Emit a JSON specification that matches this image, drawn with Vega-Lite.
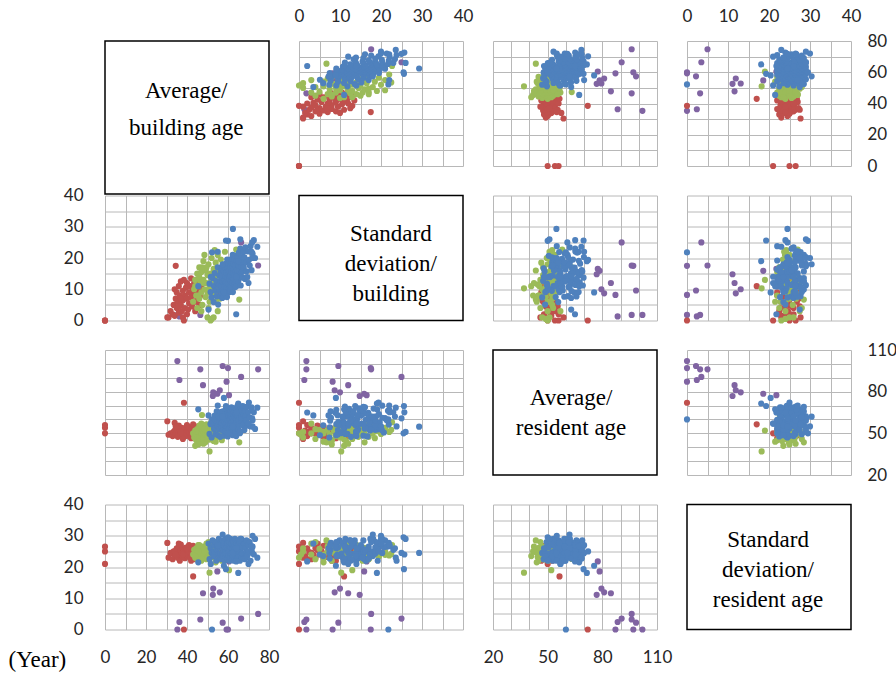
{
"$schema":"https://vega.github.io/schema/vega-lite/v6.json",
"background":"white",
"autosize":{"type":"pad"},
"padding":{"left":8,"top":7,"right":0,"bottom":0},
"config":{"view":{"stroke":null},"axis":{"ticks":false,"domain":false,"gridColor":"#b8b8b8","gridWidth":1,"gridOpacity":1,"labelFont":"Lato","labelFontSize":17,"labelColor":"#262626","labelFlush":false,"labelOverlap":false,"labelPadding":16}},
"data":{"values":[
{"a":35.3,"b":1.8,"c":102,"d":0,"g":"p"},{"a":60,"b":17.5,"c":97,"d":0,"g":"p"},{"a":59.3,"b":8.2,"c":87.2,"d":0,"g":"p"},{"a":57.4,"b":9.6,"c":98.5,"d":2.2,"g":"p"},{"a":36.3,"b":1.3,"c":88.4,"d":2.4,"g":"p"},{"a":46.5,"b":1.8,"c":96.1,"d":3.2,"g":"p"},{"a":66.4,"b":25,"c":90.6,"d":3.5,"g":"p"},{"a":74.7,"b":17.6,"c":96.1,"d":5,"g":"p"},{"a":47.8,"b":12,"c":84.7,"d":11.6,"g":"p"},{"a":56,"b":8.7,"c":81,"d":11.9,"g":"p"},{"a":52.6,"b":14.8,"c":76.9,"d":11.1,"g":"p"},{"a":52.8,"b":10,"c":79.5,"d":13.1,"g":"p"},{"a":54.8,"b":15.9,"c":78.5,"d":18.6,"g":"p"},{"a":60.5,"b":16.5,"c":77.5,"d":21.8,"g":"p"},
{"a":31,"b":1,"c":49,"d":23,"g":"r"},{"a":32,"b":3,"c":50,"d":24.5,"g":"r"},{"a":33,"b":2,"c":48,"d":22.5,"g":"r"},{"a":33.5,"b":5,"c":51,"d":25,"g":"r"},{"a":34,"b":1.5,"c":52,"d":23.5,"g":"r"},{"a":34.5,"b":7,"c":49.5,"d":24,"g":"r"},{"a":35,"b":4,"c":50.5,"d":26,"g":"r"},{"a":35,"b":9,"c":53,"d":25.5,"g":"r"},{"a":35.5,"b":6,"c":47.5,"d":23,"g":"r"},{"a":36,"b":2.5,"c":51.5,"d":24.8,"g":"r"},
{"a":36,"b":11,"c":48.5,"d":26.5,"g":"r"},{"a":36.5,"b":8,"c":52.5,"d":22,"g":"r"},{"a":37,"b":5,"c":49,"d":25.2,"g":"r"},{"a":37,"b":12.5,"c":50,"d":23.8,"g":"r"},{"a":37.5,"b":3,"c":54,"d":24.3,"g":"r"},{"a":38,"b":9.5,"c":51,"d":26,"g":"r"},{"a":38,"b":6.5,"c":47,"d":23.2,"g":"r"},{"a":38.5,"b":13,"c":52,"d":25,"g":"r"},{"a":39,"b":4,"c":50,"d":22.8,"g":"r"},{"a":39,"b":8,"c":53.5,"d":24.6,"g":"r"},
{"a":39.5,"b":10.5,"c":48,"d":26.2,"g":"r"},{"a":40,"b":7,"c":51.5,"d":23.5,"g":"r"},{"a":40,"b":12,"c":49.5,"d":25.8,"g":"r"},{"a":40.5,"b":3.5,"c":52.5,"d":24,"g":"r"},{"a":41,"b":9,"c":50,"d":27,"g":"r"},{"a":41,"b":5.5,"c":54.5,"d":25,"g":"r"},{"a":41.5,"b":11,"c":47.5,"d":23,"g":"r"},{"a":42,"b":7.5,"c":51,"d":24.4,"g":"r"},{"a":42,"b":13.5,"c":53,"d":26,"g":"r"},{"a":42.5,"b":4.5,"c":49,"d":25.5,"g":"r"},
{"a":43,"b":10,"c":52,"d":23.7,"g":"r"},{"a":43,"b":6,"c":48.5,"d":26.8,"g":"r"},{"a":43.5,"b":12,"c":50.5,"d":24.2,"g":"r"},{"a":44,"b":8.5,"c":53,"d":25.2,"g":"r"},{"a":44,"b":3,"c":51,"d":22.5,"g":"r"},{"a":44.5,"b":11.5,"c":49,"d":26,"g":"r"},{"a":45,"b":7,"c":52,"d":24.8,"g":"r"},{"a":45,"b":13,"c":50,"d":23.4,"g":"r"},{"a":45.5,"b":9.5,"c":54,"d":25.6,"g":"r"},{"a":46,"b":5,"c":51.5,"d":24,"g":"r"},
{"a":46,"b":12,"c":48,"d":26.3,"g":"r"},{"a":46.5,"b":8,"c":53,"d":23.6,"g":"r"},{"a":47,"b":10.5,"c":50.5,"d":25,"g":"r"},{"a":38,"b":1,"c":46,"d":24,"g":"r"},{"a":36,"b":4.5,"c":55.5,"d":27.5,"g":"r"},{"a":34,"b":10,"c":57.5,"d":25,"g":"r"},{"a":40,"b":2,"c":56,"d":26,"g":"r"},{"a":42,"b":9,"c":46.5,"d":22,"g":"r"},{"a":37,"b":7,"c":51,"d":27.2,"g":"r"},{"a":44,"b":6,"c":55,"d":24,"g":"r"},
{"a":0,"b":0,"c":50,"d":21,"g":"r"},{"a":0,"b":0,"c":54,"d":25,"g":"r"},{"a":0,"b":0,"c":56,"d":26.5,"g":"r"},{"a":38.5,"b":0,"c":72,"d":0,"g":"r"},{"a":43,"b":11,"c":56.5,"d":17,"g":"r"},{"a":34.5,"b":17.5,"c":55,"d":24,"g":"r"},{"a":30.4,"b":1,"c":58.7,"d":27.7,"g":"r"},
{"a":43,"b":6,"c":50,"d":24,"g":"g"},{"a":43.5,"b":10,"c":47,"d":25.5,"g":"g"},{"a":44,"b":13,"c":52,"d":23,"g":"g"},{"a":44.5,"b":8,"c":45,"d":26,"g":"g"},{"a":45,"b":15,"c":49,"d":24.5,"g":"g"},{"a":45,"b":4,"c":53,"d":22.5,"g":"g"},{"a":45.5,"b":11,"c":51,"d":27,"g":"g"},{"a":46,"b":17,"c":47.5,"d":23.8,"g":"g"},{"a":46,"b":7,"c":44,"d":25,"g":"g"},{"a":46.5,"b":12.5,"c":54,"d":24.2,"g":"g"},
{"a":47,"b":9,"c":48,"d":26.5,"g":"g"},{"a":47,"b":15.5,"c":50.5,"d":22,"g":"g"},{"a":47.5,"b":5,"c":52.5,"d":25.8,"g":"g"},{"a":48,"b":13,"c":46,"d":24,"g":"g"},{"a":48,"b":19,"c":51.5,"d":26,"g":"g"},{"a":48.5,"b":10,"c":55,"d":23.5,"g":"g"},{"a":49,"b":7.5,"c":49,"d":25.2,"g":"g"},{"a":49,"b":16,"c":43.5,"d":24.8,"g":"g"},{"a":49.5,"b":12,"c":52,"d":27.5,"g":"g"},{"a":50,"b":14.5,"c":48.5,"d":23,"g":"g"},
{"a":50,"b":9,"c":54.5,"d":25.5,"g":"g"},{"a":50.5,"b":18,"c":50,"d":24.3,"g":"g"},{"a":51,"b":11,"c":45.5,"d":26.2,"g":"g"},{"a":51,"b":6,"c":51,"d":22.8,"g":"g"},{"a":51.5,"b":15,"c":53.5,"d":25,"g":"g"},{"a":52,"b":13,"c":47,"d":23.6,"g":"g"},{"a":52,"b":20,"c":49.5,"d":26.8,"g":"g"},{"a":52.5,"b":8.5,"c":52,"d":24.6,"g":"g"},{"a":53,"b":16.5,"c":55.5,"d":25.3,"g":"g"},{"a":53,"b":11.5,"c":44.5,"d":23.2,"g":"g"},
{"a":53.5,"b":14,"c":50,"d":27,"g":"g"},{"a":54,"b":18.5,"c":46.5,"d":24,"g":"g"},{"a":54,"b":9.5,"c":53,"d":25.7,"g":"g"},{"a":54.5,"b":12.5,"c":48,"d":22.4,"g":"g"},{"a":55,"b":16,"c":51.5,"d":26.1,"g":"g"},{"a":55,"b":21,"c":54,"d":23.9,"g":"g"},{"a":55.5,"b":10.5,"c":49,"d":25,"g":"g"},{"a":56,"b":14.5,"c":47.5,"d":24.4,"g":"g"},{"a":56,"b":7,"c":52.5,"d":26.6,"g":"g"},{"a":56.5,"b":19.5,"c":55,"d":23.4,"g":"g"},
{"a":57,"b":12,"c":50.5,"d":25.6,"g":"g"},{"a":57.5,"b":16.5,"c":48,"d":24.1,"g":"g"},{"a":58,"b":10,"c":53.5,"d":26.3,"g":"g"},{"a":58.5,"b":22,"c":51,"d":23.7,"g":"g"},{"a":59,"b":14,"c":56,"d":25.2,"g":"g"},{"a":60,"b":18,"c":54.5,"d":24.5,"g":"g"},{"a":47,"b":3,"c":57,"d":24,"g":"g"},{"a":50,"b":1,"c":51,"d":25,"g":"g"},{"a":52,"b":0.5,"c":49,"d":24,"g":"g"},{"a":53,"b":1,"c":47,"d":26,"g":"g"},
{"a":51.5,"b":0,"c":50,"d":23,"g":"g"},{"a":45.5,"b":8,"c":42,"d":25,"g":"g"},{"a":44,"b":11,"c":41,"d":23.5,"g":"g"},{"a":48,"b":12,"c":42.5,"d":26.5,"g":"g"},{"a":49.5,"b":17,"c":56.5,"d":22.5,"g":"g"},{"a":46,"b":14,"c":55.5,"d":27,"g":"g"},{"a":54,"b":6,"c":44,"d":21.5,"g":"g"},{"a":50.5,"b":4,"c":46,"d":28,"g":"g"},{"a":57,"b":8,"c":45,"d":22,"g":"g"},{"a":48.5,"b":21,"c":53,"d":25,"g":"g"},
{"a":53.5,"b":22.5,"c":52.5,"d":24.2,"g":"g"},{"a":55,"b":3,"c":50,"d":27.5,"g":"g"},{"a":51,"b":10.3,"c":37,"d":18.2,"g":"g"},{"a":60.5,"b":13,"c":52,"d":19,"g":"g"},{"a":65.5,"b":6.7,"c":43.5,"d":28.5,"g":"g"},{"a":47.3,"b":17,"c":63.2,"d":22.6,"g":"g"},{"a":64,"b":22.7,"c":58,"d":27,"g":"g"},
{"a":50.5,"b":3.5,"c":62.9,"d":27.5,"g":"b"},{"a":51,"b":11.8,"c":49.6,"d":22.5,"g":"b"},{"a":51.5,"b":9.1,"c":56.6,"d":26,"g":"b"},{"a":52,"b":7.4,"c":47,"d":24.5,"g":"b"},{"a":52.5,"b":13.6,"c":59.7,"d":28.5,"g":"b"},{"a":53,"b":5.9,"c":55.8,"d":23.5,"g":"b"},{"a":53.2,"b":11,"c":53.2,"d":27,"g":"b"},{"a":53.5,"b":15.2,"c":62.8,"d":25,"g":"b"},{"a":54,"b":9.5,"c":49.4,"d":28,"g":"b"},{"a":54.3,"b":12.6,"c":59,"d":22,"g":"b"},
{"a":54.5,"b":7.7,"c":65.8,"d":25.5,"g":"b"},{"a":55,"b":17,"c":55.2,"d":26.5,"g":"b"},{"a":55.2,"b":5.1,"c":48.6,"d":24,"g":"b"},{"a":55.5,"b":11.3,"c":62.2,"d":29,"g":"b"},{"a":55.7,"b":14.4,"c":52.8,"d":23,"g":"b"},{"a":56,"b":9.6,"c":58.3,"d":26.3,"g":"b"},{"a":56.2,"b":12.7,"c":47.5,"d":24.3,"g":"b"},{"a":56.4,"b":7.8,"c":61.2,"d":27.7,"g":"b"},{"a":56.5,"b":15.8,"c":65.3,"d":22.7,"g":"b"},{"a":56.8,"b":11,"c":54.5,"d":27.5,"g":"b"},
{"a":57,"b":14.1,"c":57.4,"d":22.5,"g":"b"},{"a":57.2,"b":7.2,"c":62.9,"d":26,"g":"b"},{"a":57.4,"b":17.3,"c":52.1,"d":24.5,"g":"b"},{"a":57.5,"b":12.4,"c":65.8,"d":28.5,"g":"b"},{"a":57.7,"b":9.5,"c":52.3,"d":23.5,"g":"b"},{"a":57.9,"b":7.6,"c":59.1,"d":27,"g":"b"},{"a":58,"b":15.7,"c":48.3,"d":25,"g":"b"},{"a":58.2,"b":12.8,"c":62,"d":28,"g":"b"},{"a":58.4,"b":10.9,"c":57.9,"d":22,"g":"b"},{"a":58.6,"b":17,"c":55.4,"d":25.5,"g":"b"},
{"a":58.5,"b":8.9,"c":64.8,"d":26.5,"g":"b"},{"a":58.8,"b":14.1,"c":51.3,"d":24,"g":"b"},{"a":58.9,"b":18.1,"c":60.9,"d":29,"g":"b"},{"a":59,"b":12.2,"c":67.6,"d":23,"g":"b"},{"a":59.2,"b":15.3,"c":57,"d":26.3,"g":"b"},{"a":59.4,"b":10.4,"c":50.2,"d":24.3,"g":"b"},{"a":59.6,"b":19.5,"c":63.9,"d":27.7,"g":"b"},{"a":59.5,"b":7.5,"c":54.4,"d":22.7,"g":"b"},{"a":59.8,"b":13.6,"c":59.8,"d":27.5,"g":"b"},{"a":59.9,"b":16.7,"c":47.8,"d":22.5,"g":"b"},
{"a":60,"b":11.8,"c":62.6,"d":26,"g":"b"},{"a":60.1,"b":14.8,"c":66.7,"d":24.5,"g":"b"},{"a":60.3,"b":9.9,"c":56,"d":28.5,"g":"b"},{"a":60.4,"b":18,"c":58.7,"d":23.5,"g":"b"},{"a":60.6,"b":13.1,"c":64.3,"d":27,"g":"b"},{"a":60.5,"b":16,"c":53.5,"d":25,"g":"b"},{"a":60.7,"b":9.1,"c":67,"d":28,"g":"b"},{"a":60.8,"b":19.2,"c":52.9,"d":22,"g":"b"},{"a":60.9,"b":14.2,"c":60.4,"d":25.5,"g":"b"},{"a":61,"b":11.3,"c":49.6,"d":26.5,"g":"b"},
{"a":61.1,"b":9.4,"c":63.1,"d":24,"g":"b"},{"a":61.2,"b":17.4,"c":59.1,"d":29,"g":"b"},{"a":61.3,"b":14.5,"c":56.4,"d":23,"g":"b"},{"a":61.4,"b":12.5,"c":65.9,"d":26.3,"g":"b"},{"a":61.5,"b":18.6,"c":52.5,"d":24.3,"g":"b"},{"a":61.6,"b":10.6,"c":62,"d":27.7,"g":"b"},{"a":61.7,"b":15.7,"c":68.7,"d":22.7,"g":"b"},{"a":61.8,"b":19.7,"c":57.9,"d":27.5,"g":"b"},{"a":62,"b":13.9,"c":51.3,"d":22.5,"g":"b"},{"a":62.1,"b":16.9,"c":64.8,"d":26,"g":"b"},
{"a":62.2,"b":12,"c":55.5,"d":24.5,"g":"b"},{"a":62.3,"b":21,"c":60.9,"d":28.5,"g":"b"},{"a":62.4,"b":9.1,"c":48.7,"d":23.5,"g":"b"},{"a":62.5,"b":15.1,"c":63.7,"d":27,"g":"b"},{"a":62.6,"b":18.2,"c":67.8,"d":25,"g":"b"},{"a":62.8,"b":13.3,"c":57,"d":28,"g":"b"},{"a":62.9,"b":16.3,"c":59.8,"d":22,"g":"b"},{"a":63,"b":11.4,"c":65.2,"d":25.5,"g":"b"},{"a":63.1,"b":19.5,"c":54.4,"d":26.5,"g":"b"},{"a":63.3,"b":14.6,"c":68,"d":24,"g":"b"},
{"a":63.4,"b":17.6,"c":54.5,"d":29,"g":"b"},{"a":63.5,"b":10.7,"c":61.4,"d":23,"g":"b"},{"a":63.6,"b":20.7,"c":50.6,"d":26.3,"g":"b"},{"a":63.8,"b":15.8,"c":64.1,"d":24.3,"g":"b"},{"a":64,"b":13,"c":60.2,"d":27.7,"g":"b"},{"a":64.1,"b":11,"c":57.5,"d":22.7,"g":"b"},{"a":64.3,"b":19.1,"c":67.1,"d":27.5,"g":"b"},{"a":64.4,"b":16.2,"c":53.6,"d":22.5,"g":"b"},{"a":64.5,"b":14.2,"c":63.1,"d":26,"g":"b"},{"a":64.7,"b":20.3,"c":69.9,"d":24.5,"g":"b"},
{"a":65,"b":12.5,"c":59.3,"d":28.5,"g":"b"},{"a":65.2,"b":17.6,"c":52.7,"d":23.5,"g":"b"},{"a":65.3,"b":21.7,"c":66.2,"d":27,"g":"b"},{"a":65.5,"b":15.8,"c":56.8,"d":25,"g":"b"},{"a":65.6,"b":18.8,"c":62.2,"d":28,"g":"b"},{"a":65.8,"b":13.9,"c":50.1,"d":22,"g":"b"},{"a":66,"b":23,"c":65.1,"d":25.5,"g":"b"},{"a":66.2,"b":11.2,"c":69.3,"d":26.5,"g":"b"},{"a":66.4,"b":17.3,"c":58.5,"d":24,"g":"b"},{"a":66.5,"b":20.3,"c":61.2,"d":29,"g":"b"},
{"a":66.8,"b":15.5,"c":66.7,"d":23,"g":"b"},{"a":67,"b":18.6,"c":56,"d":26.3,"g":"b"},{"a":67.2,"b":13.7,"c":69.7,"d":24.3,"g":"b"},{"a":67.5,"b":21.9,"c":56.3,"d":27.7,"g":"b"},{"a":67.7,"b":17,"c":63.1,"d":22.7,"g":"b"},{"a":68,"b":20.2,"c":52.4,"d":27.5,"g":"b"},{"a":68.3,"b":13.3,"c":66,"d":22.5,"g":"b"},{"a":68.5,"b":23.4,"c":62.1,"d":26,"g":"b"},{"a":68.8,"b":18.6,"c":59.4,"d":24.5,"g":"b"},{"a":69,"b":15.7,"c":69,"d":28.5,"g":"b"},
{"a":69.4,"b":13.9,"c":55.6,"d":23.5,"g":"b"},{"a":69.8,"b":22.1,"c":65.2,"d":27,"g":"b"},{"a":70.2,"b":19.4,"c":72.2,"d":25,"g":"b"},{"a":70.6,"b":17.6,"c":61.6,"d":28,"g":"b"},{"a":71,"b":23.8,"c":55,"d":22,"g":"b"},{"a":71.5,"b":16.1,"c":68.7,"d":25.5,"g":"b"},{"a":72,"b":21.4,"c":59.4,"d":26.5,"g":"b"},{"a":72.6,"b":25.7,"c":65.1,"d":24,"g":"b"},{"a":73.2,"b":20,"c":53.2,"d":29,"g":"b"},{"a":74.3,"b":23.6,"c":68.5,"d":23,"g":"b"},
{"a":64,"b":2,"c":65,"d":21.8,"g":"b"},{"a":45.5,"b":11,"c":67.3,"d":21.5,"g":"b"},{"a":52.2,"b":21.8,"c":60,"d":0,"g":"b"},{"a":62.4,"b":29.3,"c":54.8,"d":24.5,"g":"b"},{"a":58,"b":9,"c":75.5,"d":20.4,"g":"b"},{"a":71.5,"b":22,"c":67,"d":26.7,"g":"b"},{"a":71.8,"b":25,"c":60.8,"d":24.5,"g":"b"},{"a":64,"b":14,"c":48,"d":26,"g":"b"},{"a":65,"b":19,"c":71.5,"d":18.1,"g":"b"},{"a":51.6,"b":14,"c":57,"d":21,"g":"b"},
{"a":57.4,"b":18,"c":62,"d":30.4,"g":"b"},{"a":60,"b":25.5,"c":50,"d":29.5,"g":"b"},{"a":66,"b":26,"c":51,"d":29,"g":"b"},{"a":59,"b":25.6,"c":69.7,"d":19.3,"g":"b"},{"a":72,"b":20,"c":55,"d":30,"g":"b"},{"a":55,"b":22,"c":70,"d":27,"g":"b"},{"a":70,"b":12,"c":57,"d":21,"g":"b"}
]},
"columns":4,
"spacing":{"row":29.5,"column":30},
"bounds":"flush",
"concat":[
{"width":164,"height":125,"data":{"values":[{"t":["Average/","building age"]}]},"layer":[
 {"mark":{"type":"rect","fill":"white","stroke":"black","strokeWidth":1.5},"encoding":{"x":{"datum":0,"type":"quantitative","scale":{"domain":[0,1],"nice":false},"axis":null},"x2":{"datum":1},"y":{"datum":1,"type":"quantitative","scale":{"domain":[0,1],"nice":false},"axis":null},"y2":{"datum":-0.224}}},
 {"mark":{"type":"text","font":"Liberation Serif","fontSize":23,"lineHeight":37,"align":"center","baseline":"middle","color":"black"},"encoding":{"x":{"datum":0.495,"type":"quantitative"},"y":{"datum":0.598,"type":"quantitative"},"text":{"field":"t","type":"nominal"}}}]},
{"width":164,"height":125,"mark":{"type":"circle","size":38,"opacity":1},"encoding":{
 "x":{"field":"b","type":"quantitative","scale":{"domain":[0,40],"nice":false},"axis":{"orient":"top","values":[0,5,10,15,20,25,30,35,40],"labelExpr":"datum.value % 10 === 0 ? datum.label : ''","title":null}},
 "y":{"field":"a","type":"quantitative","scale":{"domain":[0,80],"nice":false},"axis":{"values":[0,10,20,30,40,50,60,70,80],"labels":false,"title":null}},
 "color":{"field":"g","type":"nominal","scale":{"domain":["p","r","g","b"],"range":["#8064a2","#c0504d","#9bbb59","#4f81bd"]},"legend":null}}},
{"width":164,"height":125,"mark":{"type":"circle","size":38,"opacity":1},"encoding":{
 "x":{"field":"c","type":"quantitative","scale":{"domain":[20,110],"nice":false,"zero":false},"axis":{"values":[20,30,40,50,60,70,80,90,100,110],"labels":false,"title":null}},
 "y":{"field":"a","type":"quantitative","scale":{"domain":[0,80],"nice":false},"axis":{"values":[0,10,20,30,40,50,60,70,80],"labels":false,"title":null}},
 "color":{"field":"g","type":"nominal","scale":{"domain":["p","r","g","b"],"range":["#8064a2","#c0504d","#9bbb59","#4f81bd"]},"legend":null}}},
{"width":164,"height":125,"mark":{"type":"circle","size":38,"opacity":1},"encoding":{
 "x":{"field":"d","type":"quantitative","scale":{"domain":[0,40],"nice":false},"axis":{"orient":"top","values":[0,5,10,15,20,25,30,35,40],"labelExpr":"datum.value % 10 === 0 ? datum.label : ''","title":null}},
 "y":{"field":"a","type":"quantitative","scale":{"domain":[0,80],"nice":false},"axis":{"orient":"right","values":[0,10,20,30,40,50,60,70,80],"labelExpr":"datum.value % 20 === 0 ? datum.label : ''","title":null}},
 "color":{"field":"g","type":"nominal","scale":{"domain":["p","r","g","b"],"range":["#8064a2","#c0504d","#9bbb59","#4f81bd"]},"legend":null}}},
{"width":164,"height":125,"mark":{"type":"circle","size":38,"opacity":1},"encoding":{
 "x":{"field":"a","type":"quantitative","scale":{"domain":[0,80],"nice":false},"axis":{"values":[0,10,20,30,40,50,60,70,80],"labels":false,"title":null}},
 "y":{"field":"b","type":"quantitative","scale":{"domain":[0,40],"nice":false},"axis":{"orient":"left","values":[0,5,10,15,20,25,30,35,40],"labelExpr":"datum.value % 10 === 0 ? datum.label : ''","title":null,"labelPadding":22}},
 "color":{"field":"g","type":"nominal","scale":{"domain":["p","r","g","b"],"range":["#8064a2","#c0504d","#9bbb59","#4f81bd"]},"legend":null}}},
{"width":164,"height":125,"data":{"values":[{"t":["Standard","deviation/","building"]}]},"layer":[
 {"mark":{"type":"rect","fill":"white","stroke":"black","strokeWidth":1.5},"encoding":{"x":{"datum":0,"type":"quantitative","scale":{"domain":[0,1],"nice":false},"axis":null},"x2":{"datum":1},"y":{"datum":1,"type":"quantitative","scale":{"domain":[0,1],"nice":false},"axis":null},"y2":{"datum":0}}},
 {"mark":{"type":"text","font":"Liberation Serif","fontSize":23,"lineHeight":30,"align":"center","baseline":"middle","color":"black"},"encoding":{"x":{"datum":0.56,"type":"quantitative"},"y":{"datum":0.696,"type":"quantitative"},"text":{"field":"t","type":"nominal"}}}]},
{"width":164,"height":125,"mark":{"type":"circle","size":38,"opacity":1},"encoding":{
 "x":{"field":"c","type":"quantitative","scale":{"domain":[20,110],"nice":false,"zero":false},"axis":{"values":[20,30,40,50,60,70,80,90,100,110],"labels":false,"title":null}},
 "y":{"field":"b","type":"quantitative","scale":{"domain":[0,40],"nice":false},"axis":{"values":[0,5,10,15,20,25,30,35,40],"labels":false,"title":null}},
 "color":{"field":"g","type":"nominal","scale":{"domain":["p","r","g","b"],"range":["#8064a2","#c0504d","#9bbb59","#4f81bd"]},"legend":null}}},
{"width":164,"height":125,"mark":{"type":"circle","size":38,"opacity":1},"encoding":{
 "x":{"field":"d","type":"quantitative","scale":{"domain":[0,40],"nice":false},"axis":{"values":[0,5,10,15,20,25,30,35,40],"labels":false,"title":null}},
 "y":{"field":"b","type":"quantitative","scale":{"domain":[0,40],"nice":false},"axis":{"values":[0,5,10,15,20,25,30,35,40],"labels":false,"title":null}},
 "color":{"field":"g","type":"nominal","scale":{"domain":["p","r","g","b"],"range":["#8064a2","#c0504d","#9bbb59","#4f81bd"]},"legend":null}}},
{"width":164,"height":125,"mark":{"type":"circle","size":38,"opacity":1},"encoding":{
 "x":{"field":"a","type":"quantitative","scale":{"domain":[0,80],"nice":false},"axis":{"values":[0,10,20,30,40,50,60,70,80],"labels":false,"title":null}},
 "y":{"field":"c","type":"quantitative","scale":{"domain":[20,110],"nice":false,"zero":false},"axis":{"values":[20,30,40,50,60,70,80,90,100,110],"labels":false,"title":null}},
 "color":{"field":"g","type":"nominal","scale":{"domain":["p","r","g","b"],"range":["#8064a2","#c0504d","#9bbb59","#4f81bd"]},"legend":null}}},
{"width":164,"height":125,"mark":{"type":"circle","size":38,"opacity":1},"encoding":{
 "x":{"field":"b","type":"quantitative","scale":{"domain":[0,40],"nice":false},"axis":{"values":[0,5,10,15,20,25,30,35,40],"labels":false,"title":null}},
 "y":{"field":"c","type":"quantitative","scale":{"domain":[20,110],"nice":false,"zero":false},"axis":{"values":[20,30,40,50,60,70,80,90,100,110],"labels":false,"title":null}},
 "color":{"field":"g","type":"nominal","scale":{"domain":["p","r","g","b"],"range":["#8064a2","#c0504d","#9bbb59","#4f81bd"]},"legend":null}}},
{"width":164,"height":125,"data":{"values":[{"t":["Average/","resident age"]}]},"layer":[
 {"mark":{"type":"rect","fill":"white","stroke":"black","strokeWidth":1.5},"encoding":{"x":{"datum":0,"type":"quantitative","scale":{"domain":[0,1],"nice":false},"axis":null},"x2":{"datum":1},"y":{"datum":1,"type":"quantitative","scale":{"domain":[0,1],"nice":false},"axis":null},"y2":{"datum":0}}},
 {"mark":{"type":"text","font":"Liberation Serif","fontSize":23,"lineHeight":30,"align":"center","baseline":"middle","color":"black"},"encoding":{"x":{"datum":0.476,"type":"quantitative"},"y":{"datum":0.616,"type":"quantitative"},"text":{"field":"t","type":"nominal"}}}]},
{"width":164,"height":125,"mark":{"type":"circle","size":38,"opacity":1},"encoding":{
 "x":{"field":"d","type":"quantitative","scale":{"domain":[0,40],"nice":false},"axis":{"values":[0,5,10,15,20,25,30,35,40],"labels":false,"title":null}},
 "y":{"field":"c","type":"quantitative","scale":{"domain":[20,110],"nice":false,"zero":false},"axis":{"orient":"right","values":[20,30,40,50,60,70,80,90,100,110],"labelExpr":"(datum.value - 20) % 30 === 0 ? datum.label : ''","title":null}},
 "color":{"field":"g","type":"nominal","scale":{"domain":["p","r","g","b"],"range":["#8064a2","#c0504d","#9bbb59","#4f81bd"]},"legend":null}}},
{"width":164,"height":125,"mark":{"type":"circle","size":38,"opacity":1},"encoding":{
 "x":{"field":"a","type":"quantitative","scale":{"domain":[0,80],"nice":false},"axis":{"orient":"bottom","values":[0,10,20,30,40,50,60,70,80],"labelExpr":"datum.value % 20 === 0 ? datum.label : ''","labelPadding":20,"title":"(Year)","titleX":-97,"titleY":30,"titleAlign":"left","titleBaseline":"middle","titleFont":"Liberation Serif","titleFontSize":23,"titleFontWeight":"normal","titleColor":"black"}},
 "y":{"field":"d","type":"quantitative","scale":{"domain":[0,40],"nice":false},"axis":{"orient":"left","values":[0,5,10,15,20,25,30,35,40],"labelExpr":"datum.value % 10 === 0 ? datum.label : ''","title":null,"labelPadding":22}},
 "color":{"field":"g","type":"nominal","scale":{"domain":["p","r","g","b"],"range":["#8064a2","#c0504d","#9bbb59","#4f81bd"]},"legend":null}}},
{"width":164,"height":125,"mark":{"type":"circle","size":38,"opacity":1},"encoding":{
 "x":{"field":"b","type":"quantitative","scale":{"domain":[0,40],"nice":false},"axis":{"values":[0,5,10,15,20,25,30,35,40],"labels":false,"title":null}},
 "y":{"field":"d","type":"quantitative","scale":{"domain":[0,40],"nice":false},"axis":{"values":[0,5,10,15,20,25,30,35,40],"labels":false,"title":null}},
 "color":{"field":"g","type":"nominal","scale":{"domain":["p","r","g","b"],"range":["#8064a2","#c0504d","#9bbb59","#4f81bd"]},"legend":null}}},
{"width":164,"height":125,"mark":{"type":"circle","size":38,"opacity":1},"encoding":{
 "x":{"field":"c","type":"quantitative","scale":{"domain":[20,110],"nice":false,"zero":false},"axis":{"orient":"bottom","values":[20,30,40,50,60,70,80,90,100,110],"labelExpr":"(datum.value - 20) % 30 === 0 ? datum.label : ''","labelPadding":20,"title":null}},
 "y":{"field":"d","type":"quantitative","scale":{"domain":[0,40],"nice":false},"axis":{"values":[0,5,10,15,20,25,30,35,40],"labels":false,"title":null}},
 "color":{"field":"g","type":"nominal","scale":{"domain":["p","r","g","b"],"range":["#8064a2","#c0504d","#9bbb59","#4f81bd"]},"legend":null}}},
{"width":164,"height":125,"data":{"values":[{"t":["Standard","deviation/","resident age"]}]},"layer":[
 {"mark":{"type":"rect","fill":"white","stroke":"black","strokeWidth":1.5},"encoding":{"x":{"datum":0,"type":"quantitative","scale":{"domain":[0,1],"nice":false},"axis":null},"x2":{"datum":1},"y":{"datum":1,"type":"quantitative","scale":{"domain":[0,1],"nice":false},"axis":null},"y2":{"datum":0}}},
 {"mark":{"type":"text","font":"Liberation Serif","fontSize":23,"lineHeight":30,"align":"center","baseline":"middle","color":"black"},"encoding":{"x":{"datum":0.494,"type":"quantitative"},"y":{"datum":0.72,"type":"quantitative"},"text":{"field":"t","type":"nominal"}}}]}
]
}
